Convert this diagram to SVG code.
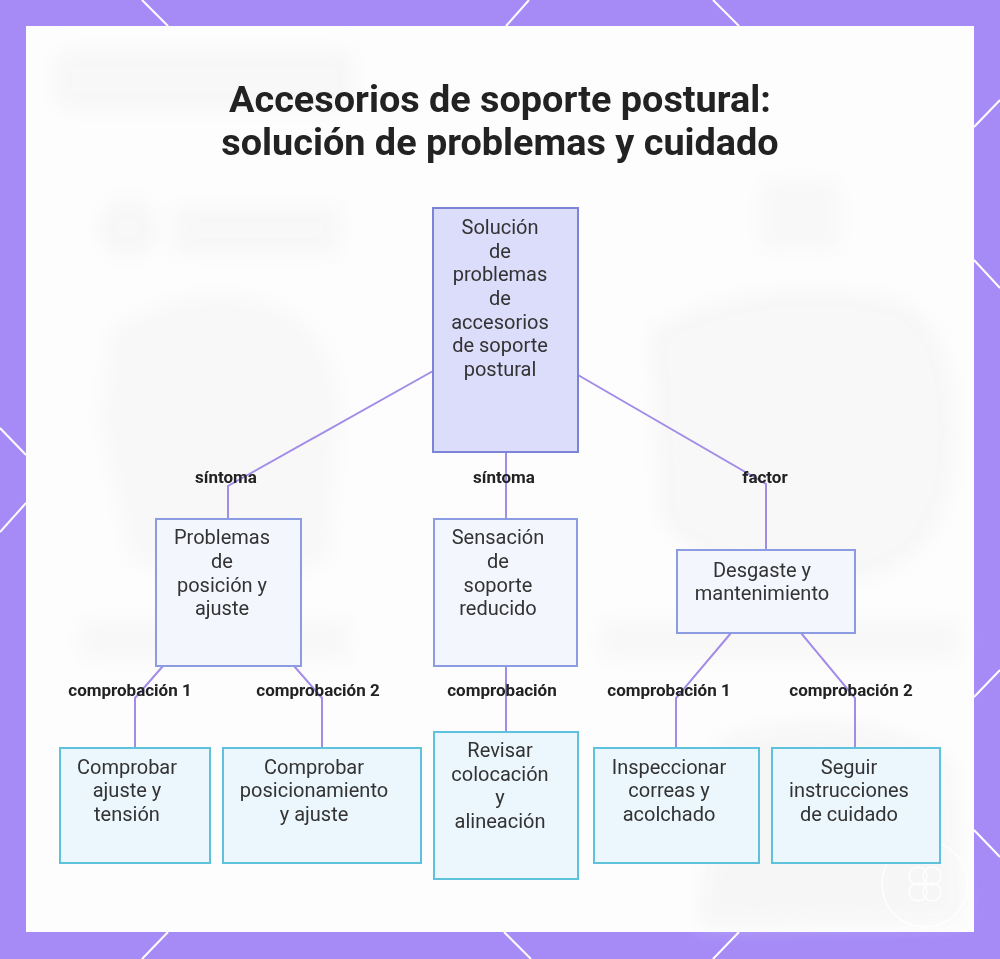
<svg xmlns="http://www.w3.org/2000/svg" width="1000" height="959" viewBox="0 0 1000 959">
  <defs>
    <filter id="blur" x="-20%" y="-20%" width="140%" height="140%">
      <feGaussianBlur stdDeviation="10"/>
    </filter>
    <style>
      .frame-line { stroke: #ffffff; stroke-width: 2; fill: none; }
      .title { font-family: Roboto, "Liberation Sans", sans-serif; font-weight: 700; font-size: 37.8px; fill: #222222; text-anchor: middle; }
      .ntext { font-family: Roboto, "Liberation Sans", sans-serif; font-size: 20px; fill: #333333; text-anchor: middle; dominant-baseline: central; }
      .elabel { font-family: Roboto, "Liberation Sans", sans-serif; font-weight: 700; font-size: 17px; fill: #222222; text-anchor: middle; dominant-baseline: central; }
      .root { fill: #dcdcfb; stroke: #7b84d6; stroke-width: 2; }
      .mid { fill: #f4f6fe; stroke: #8c9ce2; stroke-width: 2; }
      .leaf { fill: #ebf7fd; stroke: #5fc2dc; stroke-width: 2; }
      .edge { fill: none; stroke: #a38be8; stroke-width: 2; }
      .bg { fill: #efefef; }
    </style>
  </defs>

  <!-- purple frame -->
  <rect x="0" y="0" width="1000" height="959" fill="#a68bf7"/>
  <g id="frame-lines">
    <line class="frame-line" x1="142" y1="0" x2="168" y2="26"/>
    <line class="frame-line" x1="529" y1="0" x2="506" y2="26"/>
    <line class="frame-line" x1="713" y1="0" x2="739" y2="26"/>
    <line class="frame-line" x1="974" y1="127" x2="1000" y2="100"/>
    <line class="frame-line" x1="974" y1="260" x2="1000" y2="288"/>
    <line class="frame-line" x1="974" y1="697" x2="1000" y2="670"/>
    <line class="frame-line" x1="974" y1="830" x2="1000" y2="857"/>
    <line class="frame-line" x1="0" y1="428" x2="26" y2="455"/>
    <line class="frame-line" x1="26" y1="503" x2="0" y2="532"/>
    <line class="frame-line" x1="168" y1="932" x2="142" y2="959"/>
    <line class="frame-line" x1="504" y1="932" x2="531" y2="959"/>
    <line class="frame-line" x1="739" y1="932" x2="713" y2="959"/>
  </g>

  <!-- white panel -->
  <rect x="26" y="26" width="948" height="906" fill="#fdfdfd"/>

  <!-- faint blurred background -->
  <g id="background" filter="url(#blur)">
    <rect class="bg" x="55" y="50" width="300" height="60" rx="10" opacity="0.35"/>
    <circle class="bg" cx="128" cy="228" r="30" opacity="0.35"/>
    <rect class="bg" x="175" y="205" width="165" height="50" rx="6" opacity="0.35"/>
    <rect class="bg" x="760" y="180" width="80" height="70" rx="6" opacity="0.3"/>
    <path class="bg" d="M110 330 Q190 280 260 300 Q330 320 340 400 L330 560 Q230 600 130 560 L100 420 Z" opacity="0.3"/>
    <path class="bg" d="M650 330 Q760 270 900 300 Q960 330 955 450 Q950 560 860 580 Q720 590 660 520 Z" opacity="0.35"/>
    <rect class="bg" x="80" y="620" width="270" height="40" rx="8" opacity="0.3"/>
    <rect class="bg" x="600" y="620" width="360" height="40" rx="8" opacity="0.3"/>
    <path class="bg" d="M720 740 Q850 700 950 760 L960 920 L700 925 Z" opacity="0.5"/>
  </g>
  <g id="watermark" fill="none" stroke="#ffffff" stroke-width="1.5" opacity="0.9">
    <circle cx="925" cy="884" r="43"/>
    <circle cx="918" cy="876" r="9"/>
    <circle cx="932" cy="876" r="9"/>
    <circle cx="918" cy="892" r="9"/>
    <circle cx="932" cy="892" r="9"/>
  </g>

  <!-- title -->
  <g id="title">
    <text class="title" x="500" y="112">Accesorios de soporte postural:</text>
    <text class="title" x="500" y="155">solución de problemas y cuidado</text>
  </g>

  <!-- connectors -->
  <g id="connectors">
    <polyline class="edge" points="433,371 228,486 228,519"/>
    <polyline class="edge" points="506,452 506,519"/>
    <polyline class="edge" points="578,375 766,484 766,550"/>
    <polyline class="edge" points="163,666 135,698 135,748"/>
    <polyline class="edge" points="294,666 322,698 322,748"/>
    <polyline class="edge" points="506,666 506,732"/>
    <polyline class="edge" points="731,633 676,698 676,748"/>
    <polyline class="edge" points="801,633 855,698 855,748"/>
  </g>
  <g id="edge-labels">
    <text class="elabel" x="226" y="477">síntoma</text>
    <text class="elabel" x="504" y="477">síntoma</text>
    <text class="elabel" x="765" y="477">factor</text>
    <text class="elabel" x="130" y="690">comprobación 1</text>
    <text class="elabel" x="318" y="690">comprobación 2</text>
    <text class="elabel" x="502" y="690">comprobación</text>
    <text class="elabel" x="669" y="690">comprobación 1</text>
    <text class="elabel" x="851" y="690">comprobación 2</text>
  </g>

  <!-- nodes -->
  <g id="node-root">
    <rect class="root" x="433" y="208" width="145" height="244"/>
    <text class="ntext" x="500" y="227">Solución</text>
    <text class="ntext" x="500" y="251">de</text>
    <text class="ntext" x="500" y="274">problemas</text>
    <text class="ntext" x="500" y="298">de</text>
    <text class="ntext" x="500" y="322">accesorios</text>
    <text class="ntext" x="500" y="345">de soporte</text>
    <text class="ntext" x="500" y="369">postural</text>
  </g>

  <g id="node-problemas">
    <rect class="mid" x="156" y="519" width="145" height="147"/>
    <text class="ntext" x="222" y="537">Problemas</text>
    <text class="ntext" x="222" y="561">de</text>
    <text class="ntext" x="222" y="585">posición y</text>
    <text class="ntext" x="222" y="608">ajuste</text>
  </g>

  <g id="node-sensacion">
    <rect class="mid" x="434" y="519" width="143" height="147"/>
    <text class="ntext" x="498" y="537">Sensación</text>
    <text class="ntext" x="498" y="561">de</text>
    <text class="ntext" x="498" y="585">soporte</text>
    <text class="ntext" x="498" y="608">reducido</text>
  </g>

  <g id="node-desgaste">
    <rect class="mid" x="677" y="550" width="178" height="83"/>
    <text class="ntext" x="762" y="570">Desgaste y</text>
    <text class="ntext" x="762" y="593">mantenimiento</text>
  </g>

  <g id="node-ajuste-tension">
    <rect class="leaf" x="60" y="748" width="150" height="115"/>
    <text class="ntext" x="127" y="767">Comprobar</text>
    <text class="ntext" x="127" y="790">ajuste y</text>
    <text class="ntext" x="127" y="814">tensión</text>
  </g>

  <g id="node-posicionamiento">
    <rect class="leaf" x="223" y="748" width="198" height="115"/>
    <text class="ntext" x="314" y="767">Comprobar</text>
    <text class="ntext" x="314" y="790">posicionamiento</text>
    <text class="ntext" x="314" y="814">y ajuste</text>
  </g>

  <g id="node-revisar">
    <rect class="leaf" x="434" y="732" width="144" height="147"/>
    <text class="ntext" x="500" y="750">Revisar</text>
    <text class="ntext" x="500" y="774">colocación</text>
    <text class="ntext" x="500" y="797">y</text>
    <text class="ntext" x="500" y="821">alineación</text>
  </g>

  <g id="node-inspeccionar">
    <rect class="leaf" x="594" y="748" width="165" height="115"/>
    <text class="ntext" x="669" y="767">Inspeccionar</text>
    <text class="ntext" x="669" y="790">correas y</text>
    <text class="ntext" x="669" y="814">acolchado</text>
  </g>

  <g id="node-seguir">
    <rect class="leaf" x="772" y="748" width="168" height="115"/>
    <text class="ntext" x="849" y="767">Seguir</text>
    <text class="ntext" x="849" y="790">instrucciones</text>
    <text class="ntext" x="849" y="814">de cuidado</text>
  </g>
</svg>
